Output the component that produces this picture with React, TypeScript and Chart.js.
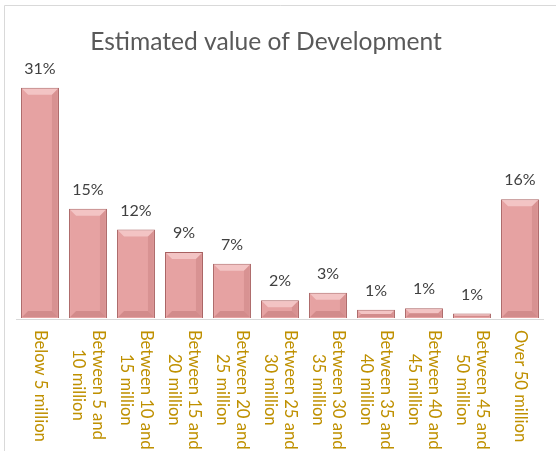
import React, { useEffect, useRef } from "react";
import { Chart, registerables } from "chart.js";

Chart.register(...registerables);

const categories: string[] = [
  "Below 5 million",
  "Between 5 and\n10 million",
  "Between 10 and\n15 million",
  "Between 15 and\n20 million",
  "Between 20 and\n25 million",
  "Between 25 and\n30 million",
  "Between 30 and\n35 million",
  "Between 35 and\n40 million",
  "Between 40 and\n45 million",
  "Between 45 and\n50 million",
  "Over 50 million",
];

const shares: number[] = [31, 14.7, 11.9, 8.9, 7.3, 2.4, 3.4, 1.1, 1.3, 0.6, 16];

const titleText = "Estimated value of Development";
const FONT = "Lato, 'Open Sans', sans-serif";

const decorPlugin = {
  id: "decor",
  beforeDraw(chart: any) {
    const ctx = chart.ctx;
    ctx.save();
    ctx.strokeStyle = "#D9D9D9";
    ctx.lineWidth = 1;
    ctx.beginPath();
    ctx.moveTo(4.5, chart.height);
    ctx.lineTo(4.5, 5.5);
    ctx.lineTo(chart.width, 5.5);
    ctx.stroke();
    // title
    ctx.fillStyle = "#595959";
    ctx.font = `24.6px ${FONT}`;
    ctx.textAlign = "center";
    ctx.textBaseline = "middle";
    ctx.fillText(titleText, 266, 42);
    ctx.restore();
  },
  afterDatasetsDraw(chart: any) {
    const ctx = chart.ctx;
    const area = chart.chartArea;
    const xs = chart.scales.x;
    const meta = chart.getDatasetMeta(0);
    ctx.save();
    // baseline
    ctx.strokeStyle = "#D9D9D9";
    ctx.lineWidth = 1;
    ctx.beginPath();
    ctx.moveTo(area.left, area.bottom + 1.5);
    ctx.lineTo(area.right, area.bottom + 1.5);
    ctx.stroke();
    // bevel highlights on bars
    meta.data.forEach((bar: any) => {
      const half = bar.width / 2;
      const l = bar.x - half + 1;
      const r = bar.x + half - 1;
      const t = bar.y + 1;
      const b = bar.base - 1;
      const h = Math.min(6, (b - t) / 2);
      ctx.fillStyle = "rgba(255,230,230,0.5)";
      ctx.beginPath();
      ctx.moveTo(l, t);
      ctx.lineTo(r, t);
      ctx.lineTo(r - h, t + h);
      ctx.lineTo(l + h, t + h);
      ctx.closePath();
      ctx.fill();
      ctx.fillStyle = "rgba(140,60,60,0.22)";
      ctx.beginPath();
      ctx.moveTo(l, b);
      ctx.lineTo(r, b);
      ctx.lineTo(r - h, b - h);
      ctx.lineTo(l + h, b - h);
      ctx.closePath();
      ctx.fill();
      ctx.fillStyle = "rgba(140,60,60,0.15)";
      ctx.beginPath();
      ctx.moveTo(r, t);
      ctx.lineTo(r, b);
      ctx.lineTo(r - h, b - h);
      ctx.lineTo(r - h, t + h);
      ctx.closePath();
      ctx.fill();
    });
    // value labels
    ctx.fillStyle = "#404040";
    ctx.font = `16px ${FONT}`;
    ctx.textAlign = "center";
    ctx.textBaseline = "middle";
    meta.data.forEach((bar: any, i: number) => {
      ctx.fillText(`${Math.round(shares[i])}%`, bar.x, bar.y - 19);
    });
    // category labels rotated clockwise
    ctx.fillStyle = "#BF9000";
    ctx.font = `16.6px ${FONT}`;
    categories.forEach((label, i) => {
      const lines = label.split("\n");
      const x = xs.getPixelForValue(i);
      const maxW = Math.max(...lines.map((l) => ctx.measureText(l).width));
      ctx.save();
      ctx.translate(x, area.bottom + 12 + maxW / 2);
      ctx.rotate(Math.PI / 2);
      ctx.textAlign = "center";
      ctx.textBaseline = "middle";
      const n = lines.length;
      lines.forEach((line, j) => {
        ctx.fillText(line, 0, (j - (n - 1) / 2) * 20);
      });
      ctx.restore();
    });
    ctx.restore();
  },
};

export default function App() {
  const ref = useRef<HTMLCanvasElement>(null);
  useEffect(() => {
    if (!ref.current) return;
    const chart = new Chart(ref.current, {
      type: "bar",
      data: {
        labels: categories,
        datasets: [
          {
            data: shares,
            backgroundColor: "#E6A2A2",
            borderColor: "#A86060",
            borderWidth: 1,
            barPercentage: 0.79,
            categoryPercentage: 1,
          },
        ],
      },
      options: {
        animation: false,
        responsive: false,
        layout: { padding: { left: 16, right: 12, top: 58, bottom: 133 } },
        scales: {
          x: { display: false },
          y: { display: false, min: 0, max: 35 },
        },
        plugins: {
          legend: { display: false },
          tooltip: { enabled: false },
          title: { display: false },
        },
      },
      plugins: [decorPlugin],
    });
    return () => chart.destroy();
  }, []);
  return (
    <canvas
      ref={ref}
      width={556}
      height={451}
      style={{ position: "fixed", left: 0, top: 0, width: 556, height: 451, background: "#fff" }}
    />
  );
}
